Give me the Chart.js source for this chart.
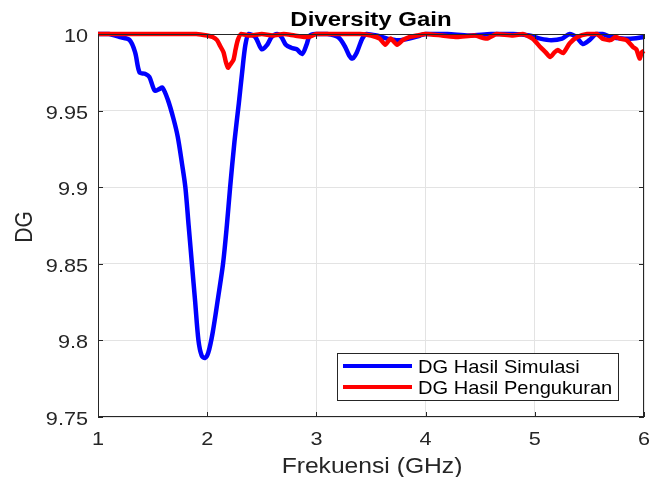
<!DOCTYPE html>
<html>
<head>
<meta charset="utf-8">
<script src="https://cdn.jsdelivr.net/npm/chart.js@4"></script>
<style>
  body { margin: 0; background: #fff; }
  canvas { display: block; }
</style>
</head>
<body>
<canvas id="dgChart" width="659" height="477"></canvas>
<script>
// simulation curve (GHz, DG)
const freqSim = [1.00, 1.10, 1.20, 1.29, 1.34, 1.38, 1.43, 1.47, 1.52, 1.56, 1.59, 1.64, 1.69, 1.73, 1.77, 1.80,
  1.83, 1.86, 1.89, 1.92, 1.95, 1.98, 2.01, 2.05, 2.10, 2.145, 2.18, 2.21, 2.25, 2.29, 2.32, 2.35, 2.38,
  2.44, 2.50, 2.55, 2.59, 2.64, 2.68, 2.72, 2.77, 2.82, 2.87, 2.91, 2.94, 3.00, 3.10, 3.20, 3.26, 3.30,
  3.33, 3.37, 3.42, 3.46, 3.55, 3.65, 3.75, 3.85, 3.95, 4.00, 4.20, 4.40, 4.60, 4.80, 4.95, 5.05, 5.15,
  5.25, 5.32, 5.38, 5.44, 5.50, 5.56, 5.62, 5.70, 5.80, 5.90, 6.00];
const dgSim = [10.000, 10.000, 9.998, 9.996, 9.988, 9.975, 9.974, 9.972, 9.963, 9.964, 9.965, 9.957, 9.945, 9.933, 9.915, 9.900,
  9.875, 9.850, 9.825, 9.800, 9.790, 9.7885, 9.792, 9.805, 9.828, 9.850, 9.875, 9.900, 9.930, 9.955, 9.975, 9.993, 10.000,
  9.998, 9.990, 9.993, 9.998, 10.000, 9.998, 9.993, 9.991, 9.990, 9.987, 9.993, 9.999, 10.000, 10.000, 9.998, 9.992, 9.986,
  9.984, 9.988, 9.997, 10.000, 9.999, 9.997, 9.996, 9.997, 9.999, 10.000, 10.000, 9.999, 10.000, 10.000, 9.999, 9.997, 9.996,
  9.997, 10.000, 9.998, 9.9935, 9.996, 10.000, 10.000, 9.998, 9.997, 9.997, 9.998];

// measurement curve
const freqMeas = [1.00, 1.30, 1.60, 1.90, 2.00, 2.05, 2.09, 2.12, 2.15, 2.17, 2.19, 2.21, 2.24, 2.26, 2.28, 2.31,
  2.40, 2.50, 2.60, 2.70, 2.80, 2.93, 3.00, 3.20, 3.40, 3.50, 3.58, 3.63, 3.68, 3.74, 3.79, 3.85, 3.92,
  4.00, 4.15, 4.29, 4.45, 4.56, 4.65, 4.80, 4.89, 4.98, 5.05, 5.10, 5.14, 5.18, 5.21, 5.26, 5.32, 5.39,
  5.48, 5.57, 5.62, 5.69, 5.74, 5.78, 5.84, 5.90, 5.93, 5.96, 5.98, 6.00];
const dgMeas = [10.000, 10.000, 10.000, 10.000, 9.999, 9.998, 9.996, 9.992, 9.988, 9.982, 9.978, 9.980, 9.983, 9.990, 9.996, 10.000,
  9.999, 10.000, 9.999, 10.000, 9.999, 9.998, 10.000, 10.000, 10.000, 9.999, 9.997, 9.993, 9.997, 9.993, 9.996, 9.998, 9.999,
  10.000, 9.999, 9.998, 9.999, 9.997, 10.000, 9.999, 10.000, 9.997, 9.9915, 9.988, 9.985, 9.988, 9.9895, 9.9875, 9.994, 9.998,
  10.000, 10.000, 9.997, 9.996, 9.998, 9.997, 9.996, 9.9915, 9.990, 9.984, 9.988, 9.989];

const xTicks = [1, 2, 3, 4, 5, 6];
const yTicks = [9.75, 9.8, 9.85, 9.9, 9.95, 10];
const xTickLabels = ["1", "2", "3", "4", "5", "6"];
const yTickLabels = ["9.75", "9.8", "9.85", "9.9", "9.95", "10"];
const seriesNames = ["DG Hasil Simulasi", "DG Hasil Pengukuran"];
const seriesColors = ["#0000ff", "#ff0000"];

const FONT = "'Liberation Sans', Arial, sans-serif";
const AXIS_COLOR = "#262626";

const toPoints = (xs, ys) => xs.map((x, i) => ({ x: x, y: ys[i] }));

// the source image is a bit wider than tall, so text is stretched sideways
function stretchText(ctx, text, x, y, font, sx, align) {
  ctx.save();
  ctx.font = font;
  ctx.textAlign = align;
  ctx.textBaseline = "alphabetic";
  ctx.translate(x, y);
  ctx.scale(sx, 1);
  ctx.fillText(text, 0, 0);
  ctx.restore();
}

// title, axis labels, ticks, box and legend, matlab style
const decorations = {
  id: "decorations",
  afterDraw(chart) {
    const ctx = chart.ctx;
    const a = chart.chartArea;
    const xs = chart.scales.x, ys = chart.scales.y;
    ctx.save();

    // box
    ctx.strokeStyle = AXIS_COLOR;
    ctx.lineWidth = 1;
    ctx.strokeRect(a.left + 0.5, a.top + 0.5, a.right - a.left - 1, a.bottom - a.top - 1);

    // inward tick marks
    ctx.beginPath();
    xTicks.forEach(t => {
      const px = Math.round(xs.getPixelForValue(t)) + 0.5;
      ctx.moveTo(px, a.bottom); ctx.lineTo(px, a.bottom - 5);
      ctx.moveTo(px, a.top); ctx.lineTo(px, a.top + 5);
    });
    yTicks.forEach(t => {
      const py = Math.round(ys.getPixelForValue(t)) + 0.5;
      ctx.moveTo(a.left, py); ctx.lineTo(a.left + 5, py);
      ctx.moveTo(a.right, py); ctx.lineTo(a.right - 5, py);
    });
    ctx.stroke();

    // tick labels
    ctx.fillStyle = AXIS_COLOR;
    xTicks.forEach((t, i) => {
      stretchText(ctx, xTickLabels[i], xs.getPixelForValue(t), 445, "19px " + FONT, 1.14, "center");
    });
    yTicks.forEach((t, i) => {
      stretchText(ctx, yTickLabels[i], 88, ys.getPixelForValue(t) + 8, "19px " + FONT, 1.14, "right");
    });

    // axis labels
    stretchText(ctx, "Frekuensi (GHz)", 372, 473, "22px " + FONT, 1.12, "center");
    ctx.save();
    ctx.translate(32, 227);
    ctx.scale(1.12, 1);
    ctx.rotate(-Math.PI / 2);
    ctx.font = "21px " + FONT;
    ctx.textAlign = "center";
    ctx.fillText("DG", 0, 0);
    ctx.restore();

    // title
    ctx.fillStyle = "#000";
    stretchText(ctx, "Diversity Gain", 371, 26, "bold 20px " + FONT, 1.2, "center");

    // legend
    const lx = 337, ly = 353, lw = 281, lh = 47;
    ctx.fillStyle = "#fff";
    ctx.fillRect(lx, ly, lw, lh);
    ctx.strokeStyle = AXIS_COLOR;
    ctx.strokeRect(lx + 0.5, ly + 0.5, lw, lh);
    seriesNames.forEach((name, i) => {
      const y = ly + 13 + i * 21;
      ctx.strokeStyle = seriesColors[i];
      ctx.lineWidth = 4;
      ctx.beginPath();
      ctx.moveTo(lx + 6, y); ctx.lineTo(lx + 75, y);
      ctx.stroke();
      ctx.fillStyle = "#000";
      stretchText(ctx, name, lx + 81, y + 6.5, "18.6px " + FONT, 1.08, "left");
    });
    ctx.restore();
  }
};

new Chart(document.getElementById("dgChart"), {
  type: "line",
  data: {
    datasets: [
      {
        label: seriesNames[0],
        data: toPoints(freqSim, dgSim),
        borderColor: seriesColors[0],
        borderWidth: 4.5,
        pointRadius: 0,
        tension: 0.3,
        clip: false,
        order: 1
      },
      {
        label: seriesNames[1],
        data: toPoints(freqMeas, dgMeas),
        borderColor: seriesColors[1],
        borderWidth: 4.5,
        pointRadius: 0,
        tension: 0.2,
        clip: false,
        order: 0
      }
    ]
  },
  options: {
    responsive: false,
    animation: false,
    layout: { padding: { top: 34, right: 15, left: 0, bottom: 0 } },
    plugins: {
      legend: { display: false },
      tooltip: { enabled: false },
      title: { display: false }
    },
    scales: {
      x: {
        type: "linear",
        min: 1,
        max: 6,
        afterBuildTicks: s => { s.ticks = xTicks.map(v => ({ value: v })); },
        afterFit: s => { s.height = 60; },
        grid: { color: "#e3e3e3", drawTicks: false },
        border: { display: false },
        ticks: { display: false }
      },
      y: {
        min: 9.75,
        max: 10,
        afterBuildTicks: s => { s.ticks = yTicks.map(v => ({ value: v })); },
        afterFit: s => { s.width = 98; },
        grid: { color: "#e3e3e3", drawTicks: false },
        border: { display: false },
        ticks: { display: false }
      }
    }
  },
  plugins: [decorations]
});
</script>
</body>
</html>
